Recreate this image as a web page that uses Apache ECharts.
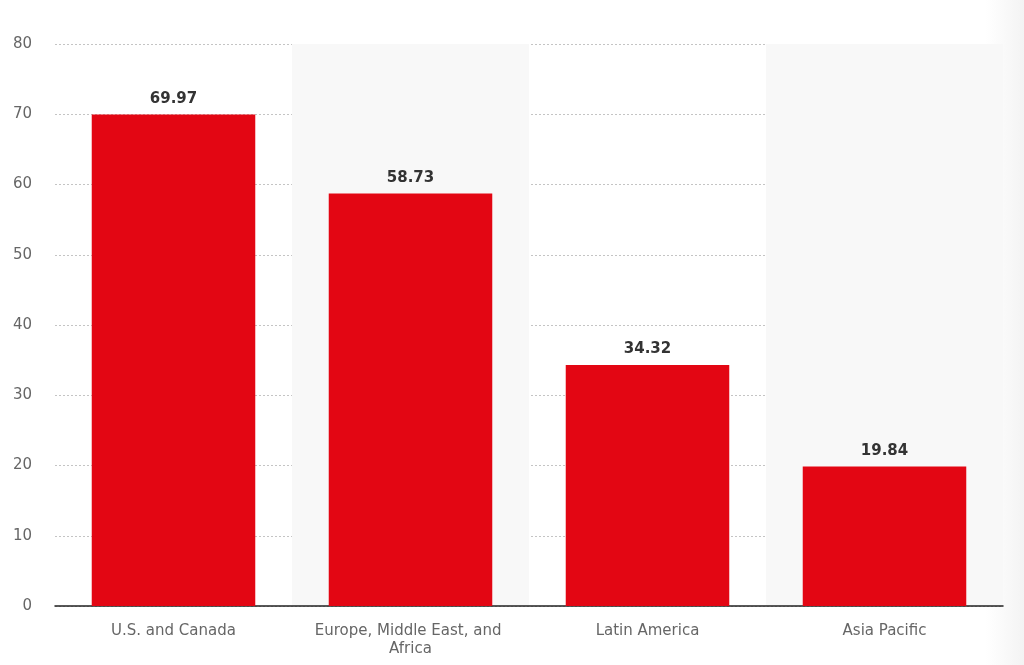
<!DOCTYPE html>
<html>
<head>
<meta charset="utf-8">
<script src="https://cdn.jsdelivr.net/npm/echarts@6/dist/echarts.min.js"></script>
<style>
html,body{margin:0;padding:0;background:#fff;}
#c{width:1024px;height:665px;}
</style>
</head>
<body>
<div id="c"></div>
<script>
const categories = ['U.S. and Canada', 'Europe, Middle East, and Africa', 'Latin America', 'Asia Pacific'];
const values = [69.97, 58.73, 34.32, 19.84];
const yTicks = { min: 0, max: 80, interval: 10 };

const chart = echarts.init(document.getElementById('c'));
chart.setOption({
  animation: false,
  backgroundColor: '#ffffff',
  textStyle: { fontFamily: '"DejaVu Sans", Verdana, sans-serif' },
  graphic: [{
    type: 'rect', left: 985, top: 0,
    shape: { width: 39, height: 665 },
    style: { fill: new echarts.graphic.LinearGradient(0, 0, 1, 0, [
      { offset: 0, color: 'rgba(240,240,240,0)' },
      { offset: 1, color: 'rgba(238,238,238,0.7)' }
    ]) },
    z: -1
  }],
  grid: { left: 55, right: 21, top: 44, bottom: 59, containLabel: false },
  xAxis: {
    type: 'category',
    data: categories,
    axisLine: { lineStyle: { color: '#222', width: 1.5 } },
    axisTick: { show: false },
    axisLabel: {
      color: '#666', fontSize: 15, margin: 16, lineHeight: 18,
      width: 210, overflow: 'break', interval: 0
    },
    splitArea: { show: true, areaStyle: { color: ['rgba(255,255,255,0)', '#f8f8f8'] } }
  },
  yAxis: {
    type: 'value',
    min: yTicks.min, max: yTicks.max, interval: yTicks.interval,
    axisLine: { show: false },
    axisTick: { show: false },
    axisLabel: { color: '#666', fontSize: 15, margin: 23 },
    splitLine: { lineStyle: { color: '#c4c4c4', type: [2, 2], width: 1 } }
  },
  series: [{
    type: 'bar',
    data: values,
    barWidth: '69%',
    itemStyle: { color: '#e30613' },
    label: {
      show: true, position: 'top', distance: 8,
      color: '#333', fontSize: 15, fontWeight: 'bold',
      formatter: p => p.value.toFixed(2)
    }
  }]
});
</script>
</body>
</html>
